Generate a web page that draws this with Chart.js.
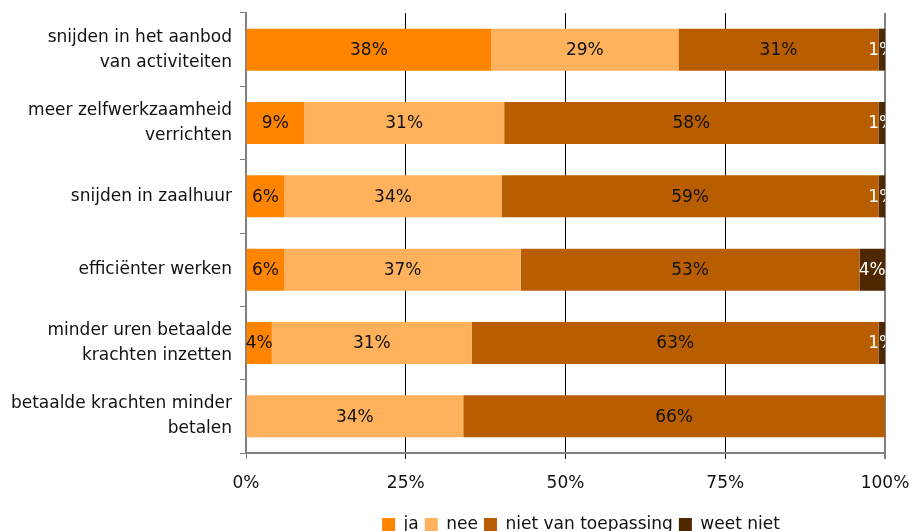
<!DOCTYPE html>
<html>
<head>
<meta charset="utf-8">
<script src="https://cdn.jsdelivr.net/npm/chart.js@4"></script>
<style>
  html, body { margin: 0; padding: 0; background: #fff; }
  #wrap { width: 914px; height: 531px; }
</style>
</head>
<body>
<div id="wrap"><canvas id="c" width="914" height="531"></canvas></div>
<script>
// ---- data (percentages as printed on the bars) ----
const categories = [
  ["snijden in het aanbod", "van activiteiten"],
  ["meer zelfwerkzaamheid", "verrichten"],
  ["snijden in zaalhuur"],
  ["efficiënter werken"],
  ["minder uren betaalde", "krachten inzetten"],
  ["betaalde krachten minder", "betalen"]
];
const seriesNames = ["ja", "nee", "niet van toepassing", "weet niet"];
const ja = [38, 9, 6, 6, 4, 0];
const nee = [29, 31, 34, 37, 31, 34];
const nietVanToepassing = [31, 58, 59, 53, 63, 66];
const weetNiet = [1, 1, 1, 4, 1, 0];
const xTickValues = [0, 25, 50, 75, 100];

// ---- styles ----
const FONT = "'DejaVu Sans', sans-serif";
const colors = ["#ff8400", "#ffb15c", "#b85e00", "#4d2800"];
const labelColors = ["#111", "#111", "#111", "#ffffff"];
const AXIS_GREY = "#808080";

const raw = [ja, nee, nietVanToepassing, weetNiet];
// each row is shown as a 100% stacked bar
const totals = categories.map((_, j) => raw.reduce((s, arr) => s + arr[j], 0));
const datasets = raw.map((arr, i) => ({
  label: seriesNames[i],
  data: arr.map((v, j) => v / totals[j] * 100),
  backgroundColor: colors[i],
  borderWidth: 0,
  barPercentage: 0.573,
  categoryPercentage: 1.0
}));

Chart.defaults.font.family = FONT;
Chart.defaults.font.size = 17;
Chart.defaults.color = "#111";

const barLabels = {
  id: "barLabels",
  afterDatasetsDraw(chart) {
    const ctx = chart.ctx;
    const a = chart.chartArea;
    ctx.save();
    ctx.beginPath();
    ctx.rect(a.left, a.top, a.right - a.left, a.bottom - a.top);
    ctx.clip();
    ctx.font = "17px " + FONT;
    ctx.textAlign = "center";
    ctx.textBaseline = "middle";
    raw.forEach((arr, i) => {
      const meta = chart.getDatasetMeta(i);
      meta.data.forEach((el, j) => {
        const v = arr[j];
        if (!v) return;
        ctx.fillStyle = labelColors[i];
        ctx.fillText(v + "%", (el.x + el.base) / 2, el.y + 1);
      });
    });
    ctx.restore();
  }
};

const legendPlace = {
  id: "legendPlace",
  afterLayout(chart) {
    const lg = chart.legend;
    if (!lg) return;
    const dx = 581 - (lg.left + lg.right) / 2;
    lg.left += dx; lg.right += dx;
    lg.top += 12; lg.bottom += 12;
  }
};

new Chart(document.getElementById("c"), {
  type: "bar",
  data: { labels: categories, datasets },
  options: {
    indexAxis: "y",
    responsive: false,
    animation: false,
    layout: { padding: { top: 13, right: 29, left: 0, bottom: 0 } },
    scales: {
      x: {
        stacked: true,
        min: 0, max: 100,
        afterBuildTicks(scale) { scale.ticks = xTickValues.map(v => ({ value: v })); },
        ticks: { callback: v => v + "%", padding: 14, maxRotation: 0, font: { size: 17 }, color: "#111" },
        grid: {
          color: ctx => ctx.index === 0 ? "rgba(0,0,0,0)" : (ctx.index === xTickValues.length - 1 ? AXIS_GREY : "#000"),
          lineWidth: ctx => ctx.index === xTickValues.length - 1 ? 2 : 1,
          tickColor: ctx => (ctx.index === 0 || ctx.index === xTickValues.length - 1) ? AXIS_GREY : "#000",
          tickLength: 6
        },
        border: { display: true, color: AXIS_GREY, width: 2 },
        afterFit(scale) {
          scale.paddingLeft = 0; scale.paddingRight = 0;
          const lh = scale.chart.legend ? scale.chart.legend.height : 0;
          scale.height = 531 - 453 - lh;
        }
      },
      y: {
        stacked: true,
        ticks: { padding: 8, font: { size: 17, lineHeight: 1.47 }, color: "#111", autoSkip: false },
        grid: { offset: true, drawOnChartArea: false, tickLength: 6, color: AXIS_GREY, tickWidth: 1 },
        border: { display: true, color: AXIS_GREY, width: 2 },
        afterFit(scale) {
          scale.width = 246;
          scale.paddingTop = 0; scale.paddingBottom = 0;
        }
      }
    },
    plugins: {
      legend: {
        display: true,
        position: "bottom",
        labels: { boxWidth: 13, boxHeight: 13, padding: 6, font: { size: 17 }, color: "#111" }
      },
      tooltip: { enabled: false }
    }
  },
  plugins: [barLabels, legendPlace]
});
</script>
</body>
</html>
